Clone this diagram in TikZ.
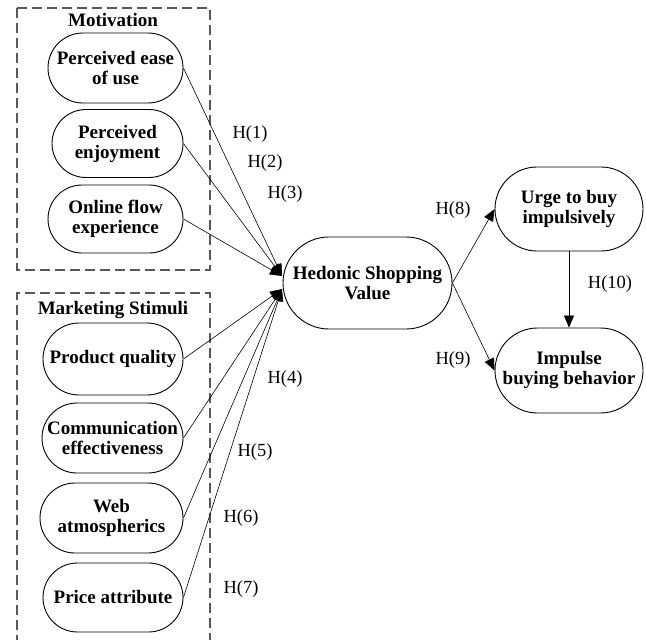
\documentclass[tikz,border=0pt]{standalone}
\usepackage{fontspec}
\setmainfont{Liberation Serif}
\usetikzlibrary{shapes.misc,arrows.meta}
\begin{document}
\begin{tikzpicture}[x=1pt,y=-1pt,
  stad/.style={draw,line width=0.9pt,rounded rectangle,inner sep=0pt,align=center,
    font=\fontsize{19}{20}\selectfont\bfseries},
  grp/.style={draw=black!65,dash pattern=on 10pt off 5pt,line width=1.2pt},
  ttl/.style={font=\fontsize{19}{20}\selectfont\bfseries,inner sep=0pt},
  hl/.style={font=\fontsize{18.5}{20}\selectfont,inner sep=0pt},
  conn/.style={draw,line width=0.6pt,-{Triangle[length=12pt,width=10pt]}}
]
\useasboundingbox (0,0) rectangle (646,640);
% group boxes
\draw[grp] (17,8) rectangle (210,270);
\draw[grp] (17,645) -- (17,293) -- (210,293) -- (210,645);
\node[ttl] (tmot) at (113,20) {Motivation};
\node[ttl] (tmkt) at (113,310) {Marketing Stimuli};
% nodes
\node[stad,minimum width=135pt,minimum height=70pt] (peu) at (115.5,68) {Perceived ease\\of use};
\node[stad,minimum width=131pt,minimum height=68pt] (pe) at (117.5,143.5) {Perceived\\enjoyment};
\node[stad,minimum width=135pt,minimum height=68pt] (ofe) at (115.5,219) {Online flow\\experience};
\node[stad,minimum width=140pt,minimum height=72pt] (pq) at (113,359) {Product quality};
\node[stad,minimum width=141pt,minimum height=70pt] (ce) at (112.5,438) {Communication\\effectiveness};
\node[stad,minimum width=143pt,minimum height=70pt] (wa) at (111.5,518) {Web\\atmospherics};
\node[stad,minimum width=140pt,minimum height=69pt] (pa) at (113,597.5) {Price attribute};
\node[stad,minimum width=169pt,minimum height=92pt] (hsv) at (367.5,283) {Hedonic Shopping\\Value};
\node[stad,minimum width=148pt,minimum height=84pt] (ubi) at (569,209) {Urge to buy\\impulsively};
\node[stad,minimum width=148pt,minimum height=85pt] (ibb) at (569,370.5) {Impulse\\buying behavior};
\coordinate (tipa) at (282,276);
\coordinate (tipb) at (282,289);
% connectors
\draw[conn] (peu.east) -- (tipa);
\draw[conn] (pe.east) -- (tipa);
\draw[conn] (ofe.east) -- (tipa);
\draw[conn] (pq.east) -- (tipb);
\draw[conn] (ce.east) -- (tipb);
\draw[conn] (wa.east) -- (tipb);
\draw[conn] (pa.east) -- (tipb);
\draw[conn] (hsv.east) -- (ubi.west);
\draw[conn] (hsv.east) -- (ibb.west);
\draw[conn] (ubi.south) -- (ibb.north);
% labels
\node[hl] (h1) at (250,134) {H(1)};
\node[hl] (h2) at (265,163) {H(2)};
\node[hl] (h3) at (285,194) {H(3)};
\node[hl] (h4) at (285,379) {H(4)};
\node[hl] (h5) at (255,452) {H(5)};
\node[hl] (h6) at (241,518) {H(6)};
\node[hl] (h7) at (241,589) {H(7)};
\node[hl] (h8) at (453,210) {H(8)};
\node[hl] (h9) at (453,360) {H(9)};
\node[hl] (h10) at (610,284) {H(10)};
\end{tikzpicture}
\end{document}
